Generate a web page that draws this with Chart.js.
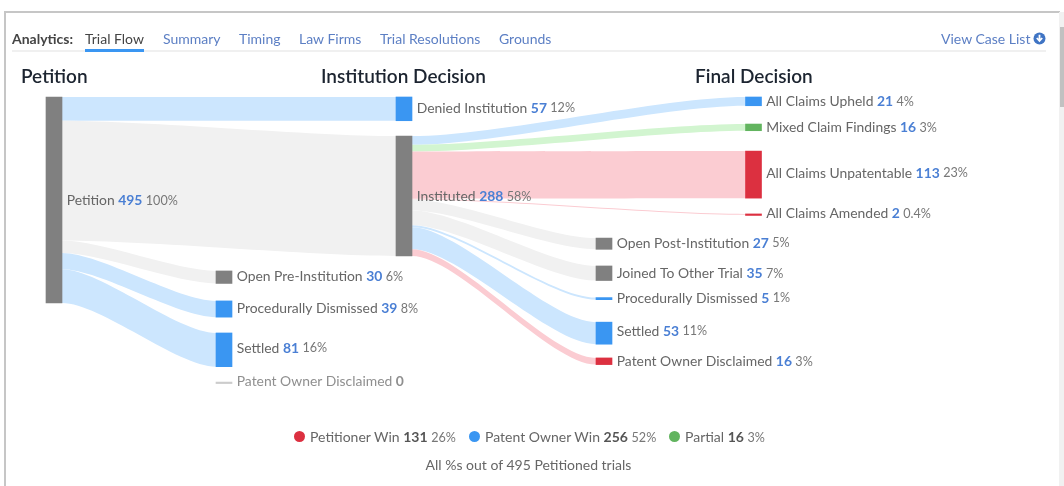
<!DOCTYPE html>
<html>
<head>
<meta charset="utf-8">
<title>Trial Flow</title>
<script src="https://cdn.jsdelivr.net/npm/chart.js@4/dist/chart.umd.min.js"></script>
<style>
	html, body { margin: 0; padding: 0; background: #fff; overflow: hidden; }
	body { width: 1064px; height: 486px; position: relative; font-family: Lato, sans-serif; font-size: 14px; color: #666; }
	#chart { position: absolute; left: 0; top: 0; }
	.frame-top { position: absolute; left: 4px; top: 11px; width: 1056px; height: 2px; background: #c6c6c6; }
	.frame-left { position: absolute; left: 4px; top: 11px; width: 2px; height: 475px; background: #c6c6c6; }
	.scroll-track { position: absolute; left: 1059px; top: 12px; width: 5px; height: 474px; background: #f1f1f1; }
	.scroll-thumb { position: absolute; left: 1060px; top: 27px; width: 4px; height: 80px; background: #c1c1c1; }
	.rule { position: absolute; left: 12px; top: 50px; width: 1034px; height: 2px; background: #f0f0f0; }
	.tab { position: absolute; top: 31px; line-height: 16px; color: #5c7fc4; white-space: nowrap; }
	.tab.head { color: #444; font-weight: 700; font-size: 14px; }
	.tab.active { color: #444; }
	.underline { position: absolute; left: 85px; top: 49px; width: 59px; height: 3px; background: #3a96f2; }
	.legend { position: absolute; top: 429px; line-height: 16px; white-space: nowrap; color: #666; }
	.legend b { color: #555; }
	.legend small { font-size: 12.6px; color: #777; }
	.dot { position: absolute; top: 431px; width: 11px; height: 11px; border-radius: 50%; }
	.note { position: absolute; left: 0; width: 1057px; top: 457px; line-height: 16px; text-align: center; color: #666; }
	svg { position: absolute; left: 1033px; top: 32px; }
</style>
</head>
<body>
<div class="frame-top"></div>
<div class="frame-left"></div>
<div class="scroll-track"></div>
<div class="scroll-thumb"></div>
<canvas id="chart" width="1064" height="486"></canvas>
<div class="rule"></div>
<div class="tab head" style="left:12px">Analytics:</div>
<div class="tab active" style="left:85px">Trial Flow</div>
<div class="tab" style="left:163px">Summary</div>
<div class="tab" style="left:239px">Timing</div>
<div class="tab" style="left:299px">Law Firms</div>
<div class="tab" style="left:380px">Trial Resolutions</div>
<div class="tab" style="left:499px">Grounds</div>
<div class="tab" style="left:941px">View Case List</div>
<svg width="13" height="13" viewBox="0 0 13 13"><circle cx="6.5" cy="6.5" r="6" fill="#3f74c4"/><path d="M6.5 2.8v5M3.8 6l2.7 3 2.7-3" fill="none" stroke="#fff" stroke-width="1.8"/></svg>
<div class="underline"></div>
<div id="legend"></div>
<div class="note">All %s out of 495 Petitioned trials</div>

<script>
// data
const stageTitles = ['Petition', 'Institution Decision', 'Final Decision'];
const nodeNames = ['Petition', 'Denied Institution', 'Instituted', 'Open Pre-Institution', 'Procedurally Dismissed', 'Settled', 'Patent Owner Disclaimed',
	'All Claims Upheld', 'Mixed Claim Findings', 'All Claims Unpatentable', 'All Claims Amended',
	'Open Post-Institution', 'Joined To Other Trial', 'Procedurally Dismissed', 'Settled', 'Patent Owner Disclaimed'];
const nodeValues = [495, 57, 288, 30, 39, 81, 0, 21, 16, 113, 2, 27, 35, 5, 53, 16];
const nodePercents = ['100%', '12%', '58%', '6%', '8%', '16%', '', '4%', '3%', '23%', '0.4%', '5%', '7%', '1%', '11%', '3%'];
const linkSources = [0, 0, 0, 0, 0, 2, 2, 2, 2, 2, 2, 2, 2, 2];
const linkTargets = [1, 2, 3, 4, 5, 7, 8, 9, 10, 11, 12, 13, 14, 15];
const legendNames = ['Petitioner Win', 'Patent Owner Win', 'Partial'];
const legendValues = [131, 256, 16];
const legendPercents = ['26%', '52%', '3%'];

// layout, not data: where each column and node sits (x in px, top in trials below the Petition top)
const colX = [54, 224, 404, 753.5, 604];
const nodeCol = [0, 2, 2, 1, 1, 1, 1, 3, 3, 3, 3, 4, 4, 4, 4, 4];
const nodeTop = [0, 0, 94, 418, 490, 567, 685, 0, 65, 130, 281, 339, 406, 482, 541, 627];
const titleX = [21, 321, 695];
const pxPerTrial = 206 / 495;
const curve = 0.25;
const labelShift = { 0: 1, 2: 1, 5: -1, 7: 1, 8: 1, 9: -1, 12: 1, 14: -1.5, 15: 1 };

const GREY = '#808080', BLUE = '#3a96f2', RED = '#dc3040', GREEN = '#62b45f', FAINT = '#cccccc';
const LGREY = '#f1f1f1', LBLUE = '#cce6fe', LRED = '#fbccd2', LGREEN = '#d2f5d0';
const nodeColors = [GREY, BLUE, GREY, GREY, BLUE, BLUE, FAINT, BLUE, GREEN, RED, RED, GREY, GREY, BLUE, BLUE, RED];
const linkColors = { [GREY]: LGREY, [BLUE]: LBLUE, [RED]: LRED, [GREEN]: LGREEN };
const legendColors = [RED, BLUE, GREEN];

var dotLeft = [294, 469, 669];
var textLeft = [310, 485, 685];
var legendHtml = '';
legendNames.forEach((name, i) => {
	legendHtml += `<span class="dot" style="left:${dotLeft[i]}px;background:${legendColors[i]}"></span>`;
	legendHtml += `<span class="legend" style="left:${textLeft[i]}px">${name} <b>${legendValues[i]}</b> <small>${legendPercents[i]}</small></span>`;
});
document.getElementById('legend').innerHTML = legendHtml;

const sankeyPlugin = {
	id: 'sankey',
	beforeDatasetsDraw(chart) {
		const ctx = chart.ctx, x = chart.scales.x, y = chart.scales.y;
		const half = chart.options.datasets.bar.barThickness / 2;
		// flows stack down the source node in the order they are listed
		let used = {};
		linkSources.forEach((s, i) => {
			const t = linkTargets[i], v = nodeValues[t];
			used[s] = used[s] || 0;
			const x0 = x.getPixelForValue(colX[nodeCol[s]]) + half;
			const x1 = x.getPixelForValue(colX[nodeCol[t]]) - half;
			const c0 = x0 + (x1 - x0) * curve, c1 = x1 - (x1 - x0) * curve;
			const a0 = y.getPixelForValue(nodeTop[s] + used[s]), a1 = y.getPixelForValue(nodeTop[s] + used[s] + v);
			const b0 = y.getPixelForValue(nodeTop[t]), b1 = y.getPixelForValue(nodeTop[t] + v);
			used[s] += v;
			ctx.beginPath();
			ctx.moveTo(x0, a0);
			ctx.bezierCurveTo(c0, a0, c1, b0, x1, b0);
			ctx.lineTo(x1, b1);
			ctx.bezierCurveTo(c1, b1, c0, a1, x0, a1);
			ctx.closePath();
			ctx.fillStyle = linkColors[nodeColors[t]];
			ctx.fill();
		});
	},
	afterDatasetsDraw(chart) {
		const ctx = chart.ctx, x = chart.scales.x, y = chart.scales.y;
		const half = chart.options.datasets.bar.barThickness / 2;
		ctx.save();
		ctx.textBaseline = 'middle';
		ctx.textAlign = 'left';

		stageTitles.forEach((title, i) => {
			ctx.font = '600 19px Lato';
			ctx.fillStyle = '#1c2430';
			ctx.fillText(title, x.getPixelForValue(titleX[i]), 77);
		});

		nodeNames.forEach((name, i) => {
			const v = nodeValues[i];
			let px = x.getPixelForValue(colX[nodeCol[i]]) + half + 4.7;
			const py = y.getPixelForValue(nodeTop[i] + v / 2) + (labelShift[i] || 0) - 0.5;
			const empty = v === 0;
			const runs = [
				[name + ' ', '13.9px Lato', empty ? '#8f8f8f' : '#666666'],
				[v + ' ', '700 13.9px Lato', empty ? '#8f8f8f' : '#4a7fd4'],
				[nodePercents[i], '12.6px Lato', '#777777']
			];
			runs.forEach(r => {
				ctx.font = r[1];
				ctx.fillStyle = r[2];
				ctx.fillText(r[0], px, py);
				px += ctx.measureText(r[0]).width;
			});
		});
		ctx.restore();
	}
};

new Chart(document.getElementById('chart'), {
	type: 'bar',
	data: {
		datasets: [{
			data: nodeValues.map((v, i) => ({ x: colX[nodeCol[i]], y: [nodeTop[i], nodeTop[i] + v] })),
			backgroundColor: nodeColors
		}]
	},
	options: {
		responsive: false,
		animation: false,
		layout: { padding: 0 },
		datasets: { bar: { barThickness: 16, minBarLength: 1.5 } },
		plugins: { legend: { display: false }, tooltip: { enabled: false }, title: { display: false } },
		scales: {
			x: { type: 'linear', display: false, offset: false, min: 0, max: 1064 },
			y: { display: false, reverse: true, min: -97 / pxPerTrial, max: 389 / pxPerTrial }
		}
	},
	plugins: [sankeyPlugin]
});
</script>
</body>
</html>
